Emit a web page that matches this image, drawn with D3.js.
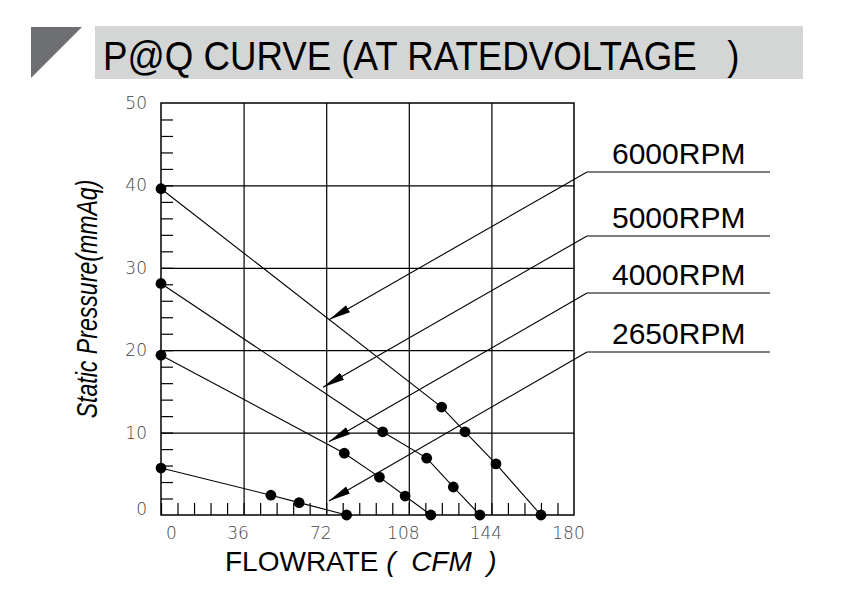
<!DOCTYPE html>
<html>
<head>
<meta charset="utf-8">
<script src="https://cdn.jsdelivr.net/npm/d3@7/dist/d3.min.js"></script>
<style>
  body { margin: 0; background: #fff; }
  svg { display: block; }
  text { font-family: "Liberation Sans", Arial, sans-serif; }
  .tick-label text { font-family: "DejaVu Sans", sans-serif; font-weight: 200; font-size: 17px; fill: #444; }
</style>
</head>
<body>
<div id="chart"></div>
<script>
// flow (CFM), pressure (mmAq)
const flowTicks = [0, 36, 72, 108, 144, 180];
const pressureTicks = [0, 10, 20, 30, 40, 50];

const rpm6000 = [[0, 39.6], [122.3, 13.1], [132.5, 10.1], [146, 6.2], [165.6, 0]];
const rpm5000 = [[0, 28.1], [96.6, 10.1], [115.8, 6.9], [127.4, 3.4], [139, 0]];
const rpm4000 = [[0, 19.4], [79.9, 7.5], [95.2, 4.6], [106.4, 2.3], [117.6, 0]];
const rpm2650 = [[0, 5.7], [47.9, 2.4], [60.2, 1.5], [80.9, 0]];

const curveNames = ['6000RPM', '5000RPM', '4000RPM', '2650RPM'];
// where each label's leader arrow points, in chart units
const arrowTips = [[73.2, 23.7], [70.6, 15.5], [73.2, 8.9], [73.2, 1.7]];

const W = 866, H = 613;
const margin = {left: 161, top: 103, right: 292, bottom: 98};
const width = W - margin.left - margin.right;
const height = H - margin.top - margin.bottom;

const svg = d3.select('#chart').append('svg')
    .attr('width', W)
    .attr('height', H);

svg.append('defs').append('marker')
    .attr('id', 'head')
    .attr('markerUnits', 'userSpaceOnUse')
    .attr('markerWidth', 24).attr('markerHeight', 10)
    .attr('refX', 22).attr('refY', 5)
    .attr('orient', 'auto')
  .append('path')
    .attr('d', 'M0,1 L22,5 L0,9 Z')
    .attr('fill', '#000');

// title block
svg.append('polygon')
    .attr('points', '31,27 82,27 31,78')
    .attr('fill', '#6e6f72');
svg.append('rect')
    .attr('x', 95).attr('y', 26)
    .attr('width', 708).attr('height', 53)
    .attr('fill', '#d4d5d5');
svg.append('text')
    .attr('transform', 'translate(103,70) scale(0.895,1)')
    .attr('font-size', 41)
    .style('white-space', 'pre')
    .text('P@Q CURVE (AT RATEDVOLTAGE   )');

const graph = svg.append('g')
    .attr('transform', `translate(${margin.left}, ${margin.top})`);

const x = d3.scaleLinear().domain([0, 180]).range([0, width]);
const y = d3.scaleLinear().domain([0, 50]).range([height, 0]);

// grid
graph.append('g')
    .attr('transform', `translate(0, ${height})`)
    .call(d3.axisBottom(x).tickValues(flowTicks.slice(1, -1)).tickSize(-height).tickFormat(''))
    .call(g => g.select('.domain').remove())
    .selectAll('line').attr('stroke', '#000').attr('stroke-width', 1.2);

graph.append('g')
    .call(d3.axisLeft(y).tickValues(pressureTicks.slice(1, -1)).tickSize(-width).tickFormat(''))
    .call(g => g.select('.domain').remove())
    .selectAll('line').attr('stroke', '#000').attr('stroke-width', 1.2);

// minor ticks
graph.append('g')
    .attr('transform', `translate(0, ${height})`)
    .call(d3.axisBottom(x).tickValues(d3.range(0, 180, 7.2)).tickSize(-12).tickSizeOuter(0).tickFormat(''))
    .call(g => g.select('.domain').remove())
    .selectAll('line').attr('stroke', '#000').attr('stroke-width', 1.2);

graph.append('g')
    .call(d3.axisLeft(y).tickValues(d3.range(2, 50, 2)).tickSize(-12).tickSizeOuter(0).tickFormat(''))
    .call(g => g.select('.domain').remove())
    .selectAll('line').attr('stroke', '#000').attr('stroke-width', 1.2);

graph.append('rect')
    .attr('width', width).attr('height', height)
    .attr('fill', 'none').attr('stroke', '#000').attr('stroke-width', 1.5);

// tick labels
graph.append('g')
    .attr('class', 'tick-label')
    .attr('transform', `translate(0, ${height})`)
    .call(d3.axisBottom(x).tickValues(flowTicks).tickSize(0).tickPadding(12))
    .call(g => g.select('.domain').remove())
    .selectAll('text')
    .attr('dx', d => d === 0 ? 10 : -6);

graph.append('g')
    .attr('class', 'tick-label')
    .call(d3.axisLeft(y).tickValues(pressureTicks).tickSize(0).tickPadding(14))
    .call(g => g.select('.domain').remove())
    .selectAll('text')
    .attr('dy', d => d === 0 ? '-0.05em' : '0.32em');

// curves
const line = d3.line().x(d => x(d[0])).y(d => y(d[1]));
const curves = [rpm6000, rpm5000, rpm4000, rpm2650];

graph.selectAll('.curve')
    .data(curves)
  .enter().append('path')
    .attr('class', 'curve')
    .attr('d', line)
    .attr('fill', 'none')
    .attr('stroke', '#000')
    .attr('stroke-width', 1.1);

graph.selectAll('.dot')
    .data(curves.flat())
  .enter().append('circle')
    .attr('class', 'dot')
    .attr('cx', d => x(d[0]))
    .attr('cy', d => y(d[1]))
    .attr('r', 5.4)
    .attr('fill', '#000');

// labels with leader arrows
const labelLineY = [172, 236, 293, 352];
const legend = svg.append('g');

curveNames.forEach((name, i) => {
  const ly = labelLineY[i];
  legend.append('text')
      .attr('x', 612).attr('y', ly - 8)
      .attr('font-size', 30)
      .text(name);
  legend.append('line')
      .attr('x1', 587).attr('y1', ly)
      .attr('x2', 770).attr('y2', ly)
      .attr('stroke', '#000').attr('stroke-width', 1.1);
  legend.append('line')
      .attr('x1', 587).attr('y1', ly)
      .attr('x2', margin.left + x(arrowTips[i][0]))
      .attr('y2', margin.top + y(arrowTips[i][1]))
      .attr('stroke', '#000').attr('stroke-width', 1.1)
      .attr('marker-end', 'url(#head)');
});

// axis titles
svg.append('text')
    .attr('transform', 'translate(97,299) rotate(-90) scale(0.77,1)')
    .attr('text-anchor', 'middle')
    .attr('font-size', 30)
    .attr('font-style', 'italic')
    .text('Static Pressure(mmAq)');

const xt = svg.append('text')
    .attr('x', 225).attr('y', 571)
    .attr('font-size', 28)
    .style('white-space', 'pre');
xt.append('tspan').text('FLOWRATE ');
xt.append('tspan').attr('font-style', 'italic').text('(  CFM  )');
</script>
</body>
</html>
